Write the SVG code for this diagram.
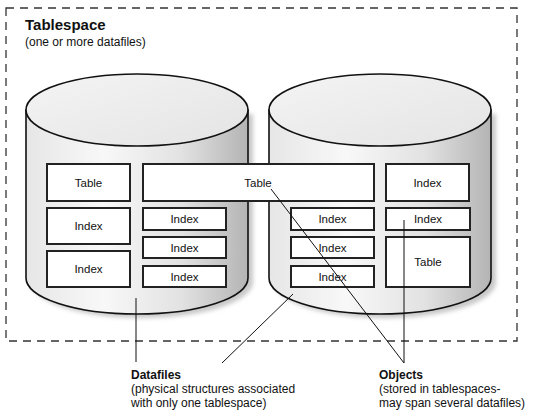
<svg xmlns="http://www.w3.org/2000/svg" width="543" height="418" viewBox="0 0 543 418">
<defs>
<linearGradient id="body" x1="0" y1="0" x2="1" y2="0">
<stop offset="0" stop-color="#e6e6e6"/>
<stop offset="0.35" stop-color="#f8f8f8"/>
<stop offset="0.7" stop-color="#e2e2e2"/>
<stop offset="1" stop-color="#b4b4b4"/>
</linearGradient>
<linearGradient id="top" x1="0" y1="0" x2="1" y2="1">
<stop offset="0" stop-color="#f4f4f4"/>
<stop offset="1" stop-color="#e4e4e4"/>
</linearGradient>
<filter id="blur" x="-10%" y="-10%" width="120%" height="120%">
<feGaussianBlur stdDeviation="2"/>
</filter>
</defs>
<style>
.frame{fill:none;stroke:#333;stroke-width:1.3;stroke-dasharray:8 6}
.shadow{fill:#c8c8c8;filter:url(#blur)}
.cyl{fill:url(#body);stroke:#111;stroke-width:1.6}
.lid{fill:url(#top);stroke:#111;stroke-width:1.6}
.box{fill:#fff;stroke:#222;stroke-width:2}
.bt{font-family:"Liberation Sans",Arial,sans-serif;font-size:11.5px;fill:#111;text-anchor:middle}
.title{font-family:"Liberation Sans",Arial,sans-serif;font-size:15px;font-weight:bold;fill:#111}
.lbl{font-family:"Liberation Sans",Arial,sans-serif;font-size:12px;fill:#111}
.lblb{font-family:"Liberation Sans",Arial,sans-serif;font-size:12px;font-weight:bold;fill:#111}
.conn line{stroke:#111;stroke-width:1}
</style>
<rect width="543" height="418" fill="#fff"/>
<g id="tablespace">
<rect class="frame" x="6" y="8" width="511" height="333"/>
<text class="title" x="25" y="30">Tablespace</text>
<text class="lbl" x="25" y="46">(one or more datafiles)</text>
</g>
<g id="datafile1">
<path class="shadow" d="M31,114 L31,282 A111,36 0 0 0 253,282 L253,114 Z"/>
<path class="cyl" d="M26,110 L26,278 A111,36 0 0 0 248,278 L248,110 Z"/>
<ellipse class="lid" cx="137" cy="110" rx="111" ry="36"/>
</g>
<g id="datafile2">
<path class="shadow" d="M274,114 L274,282 A111,36 0 0 0 496,282 L496,114 Z"/>
<path class="cyl" d="M269,110 L269,278 A111,36 0 0 0 491,278 L491,110 Z"/>
<ellipse class="lid" cx="380" cy="110" rx="111" ry="36"/>
</g>
<g id="table1"><rect class="box" x="47" y="164" width="83" height="37"/><text class="bt" x="88.5" y="186.5">Table</text></g>
<g id="index1"><rect class="box" x="47" y="208" width="83" height="36"/><text class="bt" x="88.5" y="230">Index</text></g>
<g id="index2"><rect class="box" x="47" y="251" width="83" height="36"/><text class="bt" x="88.5" y="273">Index</text></g>
<g id="table2"><rect class="box" x="143" y="164" width="231" height="37"/><text class="bt" x="258" y="186.5">Table</text></g>
<g id="index3"><rect class="box" x="143" y="208" width="83" height="22"/><text class="bt" x="184.5" y="223">Index</text></g>
<g id="index4"><rect class="box" x="143" y="237" width="83" height="21"/><text class="bt" x="184.5" y="251.5">Index</text></g>
<g id="index5"><rect class="box" x="143" y="266" width="83" height="21"/><text class="bt" x="184.5" y="280.5">Index</text></g>
<g id="index6"><rect class="box" x="291" y="208" width="83" height="22"/><text class="bt" x="332.5" y="223">Index</text></g>
<g id="index7"><rect class="box" x="291" y="237" width="83" height="21"/><text class="bt" x="332.5" y="251.5">Index</text></g>
<g id="index8"><rect class="box" x="291" y="266" width="83" height="21"/><text class="bt" x="332.5" y="280.5">Index</text></g>
<g id="index9"><rect class="box" x="386" y="164" width="83" height="37"/><text class="bt" x="427.5" y="186.5">Index</text></g>
<g id="index10"><rect class="box" x="386" y="208" width="84" height="22"/><text class="bt" x="428" y="223">Index</text></g>
<g id="table3"><rect class="box" x="386" y="237" width="84" height="50"/><text class="bt" x="428" y="265.5">Table</text></g>
<g id="connectors" class="conn">
<line x1="136" y1="298" x2="136" y2="362"/>
<line x1="293" y1="294" x2="222" y2="363"/>
<line x1="271" y1="189" x2="404" y2="363"/>
<line x1="404" y1="220" x2="404" y2="363"/>
</g>
<g id="datafiles-label">
<text class="lblb" x="131" y="379">Datafiles</text>
<text class="lbl" x="131" y="393">(physical structures associated</text>
<text class="lbl" x="131" y="407">with only one tablespace)</text>
</g>
<g id="objects-label">
<text class="lblb" x="379" y="379">Objects</text>
<text class="lbl" x="379" y="393">(stored in tablespaces-</text>
<text class="lbl" x="379" y="407">may span several datafiles)</text>
</g>
</svg>
